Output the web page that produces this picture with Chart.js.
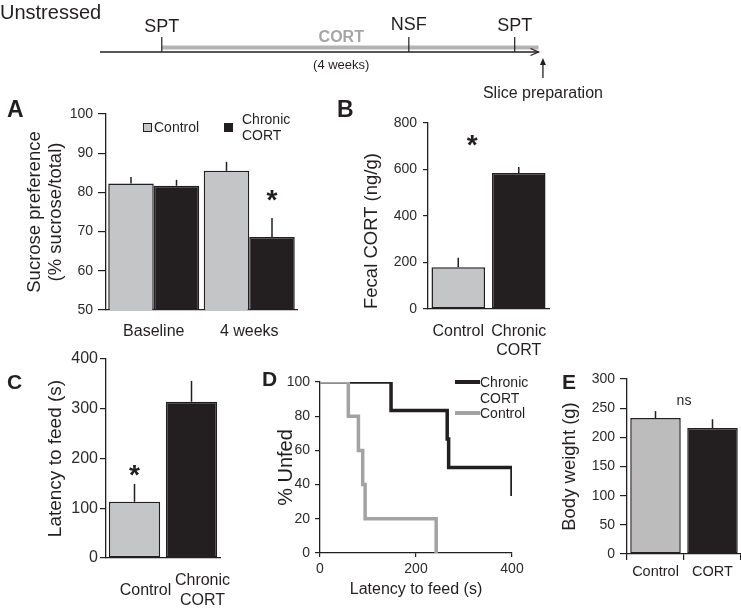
<!DOCTYPE html>
<html><head><meta charset="utf-8">
<script src="https://cdn.jsdelivr.net/npm/chart.js"></script>
<style>
html,body{margin:0;padding:0;background:#fff;}
body{width:741px;height:609px;position:relative;overflow:hidden;font-family:"Liberation Sans",Arial,Helvetica,sans-serif;color:#231f20;}
canvas{position:absolute;}
.t{position:absolute;white-space:nowrap;line-height:1;transform:translate(-50%,-50%);}
.l{transform:translate(0,-50%);}
.b{font-weight:bold;}
.sw{position:absolute;box-sizing:border-box;}
</style></head><body>
<canvas id="tl" width="450" height="60" style="left:100px;top:22px"></canvas>
<canvas id="cA" width="305" height="250" style="left:0px;top:95px"></canvas>
<canvas id="cB" width="225" height="262" style="left:330px;top:100px"></canvas>
<canvas id="cC" width="245" height="264" style="left:0px;top:345px"></canvas>
<canvas id="cD" width="282" height="244" style="left:250px;top:365px"></canvas>
<canvas id="cE" width="201" height="244" style="left:540px;top:365px"></canvas>

<div class="t l" style="left:0px;top:12px;font-size:20px">Unstressed</div>

<div class="t l b" style="left:7px;top:108.5px;font-size:23px">A</div>
<div class="t l b" style="left:337px;top:108.5px;font-size:23px">B</div>
<div class="t l b" style="left:7px;top:380.5px;font-size:21px">C</div>
<div class="t l b" style="left:262px;top:378px;font-size:21px">D</div>
<div class="t l b" style="left:562px;top:380.5px;font-size:21px">E</div>

<!-- legend A -->
<div class="sw" style="left:143px;top:122.5px;width:9px;height:9px;background:#c4c5c7;border:1px solid #231f20"></div>
<div class="t l" style="left:154px;top:127px;font-size:14px">Control</div>
<div class="sw" style="left:224px;top:122.5px;width:9px;height:9px;background:#231f20"></div>
<div class="t l" style="left:242px;top:119px;font-size:14px">Chronic</div>
<div class="t l" style="left:242px;top:135px;font-size:14px">CORT</div>

<!-- legend D -->
<div class="sw" style="left:455px;top:380.25px;width:25px;height:3.5px;background:#231f20"></div>
<div class="t l" style="left:480px;top:382px;font-size:14px">Chronic</div>
<div class="t l" style="left:480px;top:398px;font-size:14px">CORT</div>
<div class="sw" style="left:455px;top:411.25px;width:25px;height:3.5px;background:#a3a3a3"></div>
<div class="t l" style="left:480px;top:413px;font-size:14px">Control</div>

<script>
// ---------- data ----------
const timelineEvents = ['SPT', 'NSF', 'SPT'];
const timelineWeeks = [0, 2.8, 4];
const corticosteroneWeeks = [0, 4.27];
const timelineSpan = [-0.7, 4.27];
const slicePrepWeek = 4.32;

const sptCategories = ['Baseline', '4 weeks'];
const sptControl = [82.3, 85.5];
const sptControlErr = [1.6, 2.3];
const sptCort = [81.7, 68.6];
const sptCortErr = [1.5, 4.9];

const fecalCategories = ['Control', ['Chronic', 'CORT']];
const fecalValues = [180, 585];
const fecalErr = [40, 26];

const latencyCategories = ['Control', ['Chronic', 'CORT']];
const latencyValues = [113, 314];
const latencyErr = [36, 42];

const nsfControlTimes = [0, 59, 80, 89, 94, 242];
const nsfControlPct = [100, 80, 60, 40, 20, 0];
const nsfCortTimes = [0, 148, 265, 268, 400];
const nsfCortPct = [100, 83.3, 66.7, 50, 33.3];

const bwCategories = ['Control', 'CORT'];
const bwValues = [233, 216];
const bwErr = [12, 15];

// ---------- style ----------
const INK = '#231f20';
const TICK = '#2b2b2b';
const GRAY = '#c4c5c7';
const EGRAY = '#bcbcbc';
const LGRAY = '#a3a3a3';
const FONT = "'Liberation Sans', Arial, Helvetica, sans-serif";
Chart.defaults.font.family = FONT;
Chart.defaults.color = INK;

const errorBarPlugin = {
  id: 'errbars',
  afterDatasetsDraw(chart) {
    const ctx = chart.ctx, ys = chart.scales.y;
    chart.data.datasets.forEach((ds, i) => {
      if (!ds.errorPlus) return;
      const meta = chart.getDatasetMeta(i);
      meta.data.forEach((bar, j) => {
        const top = ys.getPixelForValue(ds.data[j] + ds.errorPlus[j]);
        ctx.save();
        ctx.strokeStyle = INK; ctx.lineWidth = 1.5;
        ctx.beginPath(); ctx.moveTo(bar.x, bar.y); ctx.lineTo(bar.x, top); ctx.stroke();
        ctx.restore();
      });
    });
  }
};

const notesPlugin = {
  id: 'notes',
  afterDatasetsDraw(chart, args, opts) {
    const ctx = chart.ctx, xs = chart.scales.x, ys = chart.scales.y;
    (opts.items || []).forEach(it => {
      let px;
      if (it.dataset !== undefined) px = chart.getDatasetMeta(it.dataset).data[it.index].x;
      else px = xs.getPixelForValue(it.x);
      const py = ys.getPixelForValue(it.y);
      ctx.save();
      ctx.font = (it.bold ? 'bold ' : '') + it.size + 'px ' + FONT;
      ctx.fillStyle = INK; ctx.textAlign = 'center';
      if (it.text === '*') { ctx.textBaseline = 'alphabetic'; ctx.fillText(it.text, px, py + 0.57 * it.size); }
      else { ctx.textBaseline = 'middle'; ctx.fillText(it.text, px, py); }
      ctx.restore();
    });
  }
};

function fixH(h) { return s => { s.height = h; s.paddingLeft = 0; s.paddingRight = 0; }; }
function fixW(w) { return s => { s.width = w; s.paddingTop = 0; s.paddingBottom = 0; }; }

function yAxis(min, max, step, tickSize, tickLen, pad, width, title) {
  return {
    min: min, max: max,
    ticks: { stepSize: step, color: TICK, font: { size: tickSize }, padding: pad },
    grid: { drawOnChartArea: false, tickLength: tickLen, color: INK, lineWidth: 1.2 },
    border: { color: INK, width: 1.3 },
    title: title,
    afterFit: fixW(width)
  };
}
function catTicks(size, pad, extra) {
  return Object.assign({ color: INK, font: { size: size }, padding: pad, maxRotation: 0, minRotation: 0, autoSkip: false }, extra || {});
}
const baseOpts = {
  responsive: false, animation: false, events: [],
};

// ---------- timeline ----------
const tlChart = new Chart(document.getElementById('tl'), {
  type: 'line',
  data: { datasets: [
    { data: timelineWeeks.flatMap(w => [{ x: w, y: 0 }, { x: w, y: 0.5 }, { x: w, y: null }]), borderColor: INK, borderWidth: 1.2, spanGaps: false },
    { data: [{ x: timelineSpan[0], y: 0 }, { x: timelineSpan[1], y: 0 }], borderColor: INK, borderWidth: 1.3 },
    { data: [{ x: corticosteroneWeeks[0], y: 0.15 }, { x: corticosteroneWeeks[1], y: 0.15 }], borderColor: '#b3b3b3', borderWidth: 4 },
    { data: [{ x: slicePrepWeek, y: -0.3 }, { x: slicePrepWeek, y: -0.867 }], borderColor: INK, borderWidth: 1.3 }
  ] },
  options: Object.assign({}, baseOpts, {
    layout: { padding: 0, autoPadding: false },
    elements: { point: { radius: 0 }, line: { tension: 0, borderCapStyle: 'butt' } },
    scales: {
      x: { type: 'linear', display: false, min: -0.7, max: 4.4 },
      y: { type: 'linear', display: false, min: -1, max: 1 }
    },
    plugins: { legend: { display: false }, tooltip: { enabled: false } }
  }),
  plugins: [{
    id: 'arrows',
    afterDatasetsDraw(chart) {
      const ctx = chart.ctx, xs = chart.scales.x, ys = chart.scales.y;
      const ex = xs.getPixelForValue(timelineSpan[1]), ey = ys.getPixelForValue(0);
      ctx.save();
      ctx.strokeStyle = INK; ctx.lineWidth = 1.3;
      ctx.beginPath(); ctx.moveTo(ex - 8, ey - 3.5); ctx.lineTo(ex, ey); ctx.lineTo(ex - 8, ey + 3.5); ctx.stroke();
      const ax = xs.getPixelForValue(slicePrepWeek), ay = ys.getPixelForValue(-0.2);
      ctx.fillStyle = INK;
      ctx.beginPath(); ctx.moveTo(ax, ay); ctx.lineTo(ax - 3, ay + 7); ctx.lineTo(ax + 3, ay + 7); ctx.closePath(); ctx.fill();
      ctx.restore();
    }
  }]
});
(function () {
  const cv = document.getElementById('tl');
  const L = parseFloat(cv.style.left);
  const xs = tlChart.scales.x;
  const ys = [26, 24, 25];
  function addText(txt, x, y, css) {
    const d = document.createElement('div');
    d.className = 't'; d.textContent = txt;
    d.style.left = x + 'px'; d.style.top = y + 'px';
    d.style.cssText += css;
    document.body.appendChild(d);
  }
  timelineEvents.forEach((e, i) => addText(e, L + xs.getPixelForValue(timelineWeeks[i]), ys[i], 'font-size:18px;'));
  const mid = L + xs.getPixelForValue((timelineWeeks[0] + timelineWeeks[2]) / 2) + 3;
  addText('CORT', mid, 37, 'font-size:16px;font-weight:bold;color:#a6a6a6;');
  addText('(4 weeks)', mid, 63.5, 'font-size:13px;');
  addText('Slice preparation', L + xs.getPixelForValue(slicePrepWeek), 93, 'font-size:16px;');
})();

// ---------- A ----------
new Chart(document.getElementById('cA'), {
  type: 'bar',
  data: { labels: sptCategories, datasets: [
    { label: 'Control', data: sptControl, errorPlus: sptControlErr, backgroundColor: GRAY, borderColor: INK, borderWidth: 1.5, borderSkipped: false },
    { label: 'Chronic CORT', data: sptCort, errorPlus: sptCortErr, backgroundColor: INK, borderColor: INK, borderWidth: 1.5, borderSkipped: false }
  ] },
  options: Object.assign({}, baseOpts, {
    layout: { padding: { top: 19, right: 8, left: 0, bottom: 0 }, autoPadding: false },
    datasets: { bar: { categoryPercentage: 0.953, barPercentage: 1 } },
    scales: {
      x: { grid: { display: false }, border: { color: INK, width: 1.3 }, ticks: catTicks(16, 4), afterFit: fixH(35) },
      y: yAxis(50, 100, 10, 14, 8, 5, 106, { display: true, text: ['Sucrose preference', '(% sucrose/total)'], color: INK, font: { size: 18.5, lineHeight: 1.1 }, padding: { top: 25, bottom: 0 } })
    },
    plugins: { legend: { display: false }, tooltip: { enabled: false },
      notes: { items: [{ dataset: 1, index: 1, y: 79.8, text: '*', size: 28, bold: true }] } }
  }),
  plugins: [errorBarPlugin, notesPlugin]
});

// ---------- B ----------
new Chart(document.getElementById('cB'), {
  type: 'bar',
  data: { labels: fecalCategories, datasets: [
    { data: fecalValues, errorPlus: fecalErr, backgroundColor: [GRAY, INK], borderColor: INK, borderWidth: 1.5, borderSkipped: false, categoryPercentage: 1, barPercentage: 0.885 }
  ] },
  options: Object.assign({}, baseOpts, {
    layout: { padding: { top: 23, right: 6, left: 0, bottom: 0 }, autoPadding: false },
    scales: {
      x: { grid: { display: false }, border: { color: INK, width: 1.3 }, ticks: catTicks(16, 4.5), afterFit: fixH(53) },
      y: yAxis(0, 800, 200, 14, 5, 6, 98, { display: true, text: 'Fecal CORT (ng/g)', align: 'start', color: INK, font: { size: 18.5, lineHeight: 1.2 }, padding: { top: 31, bottom: 0 } })
    },
    plugins: { legend: { display: false }, tooltip: { enabled: false },
      notes: { items: [{ x: 0.23, y: 735, text: '*', size: 28, bold: true }] } }
  }),
  plugins: [errorBarPlugin, notesPlugin]
});

// ---------- C ----------
new Chart(document.getElementById('cC'), {
  type: 'bar',
  data: { labels: latencyCategories, datasets: [
    { data: latencyValues, errorPlus: latencyErr, backgroundColor: [GRAY, INK], borderColor: INK, borderWidth: 1.5, borderSkipped: false, categoryPercentage: 1, barPercentage: 0.9 }
  ] },
  options: Object.assign({}, baseOpts, {
    layout: { padding: { top: 14, right: 25, left: 0, bottom: 0 }, autoPadding: false },
    scales: {
      x: { grid: { display: false }, border: { color: INK, width: 1.3 }, ticks: catTicks(16, 15, { crossAlign: 'center', labelOffset: 11 }), afterFit: fixH(51) },
      y: yAxis(0, 400, 100, 16, 6, 2, 106, { display: true, text: 'Latency to feed (s)', color: INK, font: { size: 19, lineHeight: 1.2 }, padding: { top: 44.6, bottom: 0 } })
    },
    plugins: { legend: { display: false }, tooltip: { enabled: false },
      notes: { items: [{ dataset: 0, index: 0, y: 181, text: '*', size: 28, bold: true }] } }
  }),
  plugins: [errorBarPlugin, notesPlugin]
});

// ---------- D ----------
new Chart(document.getElementById('cD'), {
  type: 'line',
  data: { datasets: [
    { label: 'Control', data: nsfControlTimes.map((t, i) => ({ x: t, y: nsfControlPct[i] })), borderColor: LGRAY, borderWidth: 3.5, stepped: 'before' },
    { label: 'Chronic CORT', data: nsfCortTimes.map((t, i) => ({ x: t, y: nsfCortPct[i] })), borderColor: INK, borderWidth: 3.5, stepped: 'before' }
  ] },
  options: Object.assign({}, baseOpts, {
    layout: { padding: { top: 17, right: 20, left: 0, bottom: 0 }, autoPadding: false },
    elements: { point: { radius: 0 }, line: { borderCapStyle: 'butt', borderJoinStyle: 'miter' } },
    scales: {
      x: { type: 'linear', min: 0, max: 400,
        ticks: { stepSize: 200, color: TICK, font: { size: 14 }, padding: 4, maxRotation: 0 },
        grid: { drawOnChartArea: false, tickLength: 4, color: INK, lineWidth: 1.2 },
        border: { color: INK, width: 1.3 },
        title: { display: true, text: 'Latency to feed (s)', color: INK, font: { size: 16, lineHeight: 1.2 }, padding: { top: 0, bottom: 9.4 } },
        afterFit: fixH(56) },
      y: yAxis(0, 100, 20, 14, 5, 5, 70, { display: true, text: '% Unfed', color: INK, font: { size: 20, lineHeight: 1.2 }, padding: { top: 24, bottom: 0 } })
    },
    plugins: { legend: { display: false }, tooltip: { enabled: false } }
  })
});

// ---------- E ----------
new Chart(document.getElementById('cE'), {
  type: 'bar',
  data: { labels: bwCategories, datasets: [
    { data: bwValues, errorPlus: bwErr, backgroundColor: [EGRAY, INK], borderColor: INK, borderWidth: 1.5, borderSkipped: false, categoryPercentage: 1, barPercentage: 0.886 }
  ] },
  options: Object.assign({}, baseOpts, {
    layout: { padding: { top: 14, right: 0, left: 0, bottom: 0 }, autoPadding: false },
    scales: {
      x: { grid: { display: true, drawOnChartArea: false, tickLength: 6, color: INK, lineWidth: 1.2 }, border: { color: INK, width: 1.3 }, ticks: catTicks(14.5, 3.6), afterFit: fixH(55) },
      y: yAxis(0, 300, 50, 14, 7, 5, 87, { display: true, text: 'Body weight (g)', color: INK, font: { size: 18.5, lineHeight: 1.2 }, padding: { top: 19, bottom: 0 } })
    },
    plugins: { legend: { display: false }, tooltip: { enabled: false },
      notes: { items: [{ x: 0.5, y: 262, text: 'ns', size: 14 }] } }
  }),
  plugins: [errorBarPlugin, notesPlugin]
});
</script>
</body></html>
